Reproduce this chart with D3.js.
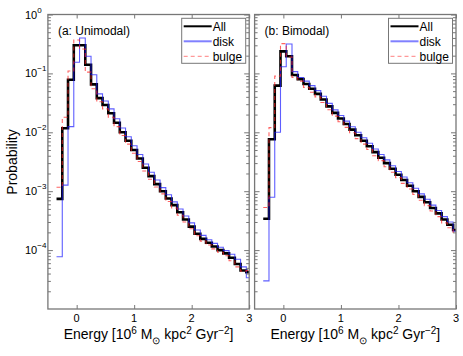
<!DOCTYPE html>
<html>
<head>
<meta charset="utf-8">
<script src="https://cdn.jsdelivr.net/npm/d3@7"></script>
<style>
  body { margin: 0; background: #fff; }
  svg { font-family: Arial, "Liberation Sans", Helvetica, sans-serif; }
</style>
</head>
<body>
<div id="chart"></div>
<script>
// bin centres (10^6 Msun kpc^2 Gyr^-2), bin width 0.1
const centres = [-0.3,-0.2,-0.1,0.0,0.1,0.2,0.3,0.4,0.5,0.6,0.7,0.8,0.9,1.0,1.1,1.2,1.3,1.4,1.5,1.6,1.7,1.8,1.9,2.0,2.1,2.2,2.3,2.4,2.5,2.6,2.7,2.8,2.9,3.0];

// (a) unimodal
const uniAll = [7.4e-4,0.0117,0.078,0.30,0.30,0.14,0.065,0.038,0.029,0.021,0.0145,0.0100,0.0072,0.0050,0.0036,0.0025,0.0018,0.00132,0.00100,0.00075,0.00058,0.00044,0.00033,0.00025,0.00019,0.000155,0.000133,0.000115,0.000100,0.000088,0.000074,0.000058,0.000045,0.000042];
const uniDisk = [7.7e-5,0.00127,0.0125,0.155,0.40,0.195,0.095,0.045,0.034,0.025,0.017,0.0118,0.0084,0.0059,0.0042,0.0029,0.0021,0.00155,0.00115,0.00087,0.00066,0.00050,0.00038,0.00029,0.00022,0.000178,0.000150,0.000130,0.000112,0.000098,0.000085,0.000070,0.000052,0.000034];
const uniBulge = [0.00117,0.018,0.11,0.37,0.26,0.105,0.055,0.033,0.025,0.018,0.0125,0.0088,0.0063,0.0044,0.0032,0.0022,0.0016,0.00118,0.00090,0.00067,0.00052,0.00039,0.00030,0.00023,0.000175,0.000142,0.000122,0.000105,0.000092,0.000080,0.000066,0.000052,0.000044,0.000045];

// (b) bimodal
const biAll = [3.4e-4,0.0076,0.062,0.237,0.195,0.094,0.080,0.066,0.055,0.045,0.036,0.0275,0.0214,0.0172,0.0138,0.0111,0.0089,0.0072,0.0058,0.0046,0.0037,0.0030,0.0024,0.0019,0.00155,0.00124,0.00100,0.00080,0.00065,0.00052,0.00042,0.00033,0.00027,0.00022];
const biDisk = [3.0e-5,7.9e-4,0.010,0.13,0.316,0.107,0.085,0.074,0.062,0.051,0.041,0.031,0.024,0.0193,0.0155,0.0124,0.0100,0.0081,0.0065,0.0052,0.0042,0.0034,0.0027,0.00216,0.00174,0.00139,0.00112,0.00090,0.00073,0.00058,0.00047,0.00037,0.00030,0.00021];
const biBulge = [5.3e-4,0.012,0.09,0.32,0.19,0.085,0.074,0.058,0.048,0.040,0.032,0.0242,0.0188,0.0151,0.0121,0.0098,0.0078,0.0063,0.0051,0.0040,0.0033,0.0026,0.0021,0.0017,0.00136,0.00109,0.00088,0.00070,0.00057,0.00046,0.00037,0.00029,0.00024,0.00020];

const yMajor = [1, 1e-1, 1e-2, 1e-3, 1e-4];
const yLabels = ["0", "\u22121", "\u22122", "\u22123", "\u22124"];
const xTicks = [0, 1, 2, 3];
const legendNames = ["All", "disk", "bulge"];

const W = 463, H = 356;
const binW = 0.1;
const frameCol = "#777";

const svg = d3.select("#chart").append("svg")
    .attr("width", W).attr("height", H);

const y = d3.scaleLog().domain([1e-5, 1]).range([309, 14.5]);

const styles = [
    {stroke: "#000", width: 2.6, dash: null, opacity: 1},
    {stroke: "#1a1aff", width: 1.1, dash: null, opacity: 0.7},
    {stroke: "#ff2020", width: 1.1, dash: "4,3", opacity: 0.7}
];
const legendStyles = [
    {stroke: "#000", width: 2, dash: null},
    {stroke: "#8080ff", width: 2, dash: null},
    {stroke: "#ff8080", width: 1, dash: "4,3"}
];

function stairs(vals) {
    const pts = centres.map((c, i) => [c - binW / 2, vals[i]]);
    pts.push([centres[centres.length - 1] + binW / 2, vals[vals.length - 1]]);
    return pts;
}

function panel(id, x0, x1, title, series, showYLabels) {
    const x = d3.scaleLinear().domain([-0.5, 3]).range([x0, x1]);
    const g = svg.append("g");

    g.append("clipPath").attr("id", "clip" + id)
      .append("rect")
        .attr("x", x0).attr("y", y.range()[1])
        .attr("width", x1 - x0).attr("height", y.range()[0] - y.range()[1]);

    const line = d3.line()
        .x(d => x(d[0]))
        .y(d => y(d[1]))
        .curve(d3.curveStepAfter);

    const plot = g.append("g").attr("clip-path", `url(#clip${id})`);
    series.forEach((vals, i) => {
        const s = styles[i];
        plot.append("path")
            .datum(stairs(vals))
            .attr("d", line)
            .attr("fill", "none")
            .attr("stroke", s.stroke)
            .attr("stroke-width", s.width)
            .attr("stroke-opacity", s.opacity)
            .attr("stroke-dasharray", s.dash);
    });

    // ticks (pointing inward)
    const yMinor = y.ticks().filter(v => yMajor.indexOf(v) < 0 && v > 1e-5 && v < 1);
    const axes = [
        [d3.axisBottom(x).tickValues(xTicks).tickSize(-4), `translate(0,${y.range()[0]})`],
        [d3.axisTop(x).tickValues(xTicks).tickSize(-4), `translate(0,${y.range()[1]})`],
        [d3.axisLeft(y).tickValues(yMajor).tickSize(-5), `translate(${x0},0)`],
        [d3.axisLeft(y).tickValues(yMinor).tickSize(-3), `translate(${x0},0)`],
        [d3.axisRight(y).tickValues(yMajor).tickSize(-5), `translate(${x1},0)`],
        [d3.axisRight(y).tickValues(yMinor).tickSize(-3), `translate(${x1},0)`]
    ];
    axes.forEach(([ax, tr]) => {
        const a = g.append("g").attr("transform", tr).call(ax.tickFormat(""));
        a.select(".domain").remove();
        a.selectAll("line").attr("stroke", frameCol).attr("stroke-width", 1);
    });

    g.append("rect")
        .attr("x", x0).attr("y", y.range()[1])
        .attr("width", x1 - x0).attr("height", y.range()[0] - y.range()[1])
        .attr("fill", "none").attr("stroke", frameCol).attr("stroke-width", 1.3);

    // x tick labels
    g.selectAll(".xl").data(xTicks).join("text")
        .attr("x", d => x(d)).attr("y", 322)
        .attr("text-anchor", "middle")
        .attr("font-size", 11)
        .text(d => d);

    if (showYLabels) {
        yMajor.forEach((v, i) => {
            const t = g.append("text")
                .attr("x", 25).attr("y", y(v) + 4)
                .attr("font-size", 11);
            t.append("tspan").text("10");
            t.append("tspan").attr("dy", -6).attr("font-size", 8).text(yLabels[i]);
        });
    }

    // x axis title
    const xt = g.append("text")
        .attr("x", (x0 + x1) / 2).attr("y", 339)
        .attr("text-anchor", "middle")
        .attr("font-size", 14);
    xt.append("tspan").text("Energy [10");
    xt.append("tspan").attr("dy", -5).attr("font-size", 10).text("6");
    xt.append("tspan").attr("dy", 5).text(" M");
    xt.append("tspan").attr("dy", 5).attr("font-size", 10).text("\u2299");
    xt.append("tspan").attr("dy", -5).text(" kpc");
    xt.append("tspan").attr("dy", -5).attr("font-size", 10).text("2");
    xt.append("tspan").attr("dy", 5).text(" Gyr");
    xt.append("tspan").attr("dy", -5).attr("font-size", 10).text("\u22122");
    xt.append("tspan").attr("dy", 5).text("]");

    // panel title
    g.append("text")
        .attr("x", x0 + 10).attr("y", 35)
        .attr("font-size", 12)
        .text(title);

    // legend
    const lx = x1 - 67.5, ly = 18.3;
    g.append("rect")
        .attr("x", lx).attr("y", ly).attr("width", 64).attr("height", 45)
        .attr("fill", "#fff").attr("stroke", frameCol).attr("stroke-width", 1);
    legendNames.forEach((name, i) => {
        const s = legendStyles[i];
        const yy = ly + 8 + i * 15;
        g.append("line")
            .attr("x1", lx + 2).attr("x2", lx + 30)
            .attr("y1", yy).attr("y2", yy)
            .attr("stroke", s.stroke).attr("stroke-width", s.width)
            .attr("stroke-dasharray", s.dash);
        g.append("text")
            .attr("x", lx + 31).attr("y", yy + 4.5)
            .attr("font-size", 12)
            .text(name);
    });
}

panel("a", 47.9, 249.2, "(a: Unimodal)", [uniAll, uniDisk, uniBulge], true);
panel("b", 254.6, 456, "(b: Bimodal)", [biAll, biDisk, biBulge], false);

// y axis title
svg.append("text")
    .attr("transform", "translate(17,162) rotate(-90)")
    .attr("text-anchor", "middle")
    .attr("font-size", 14)
    .text("Probability");
</script>
</body>
</html>
